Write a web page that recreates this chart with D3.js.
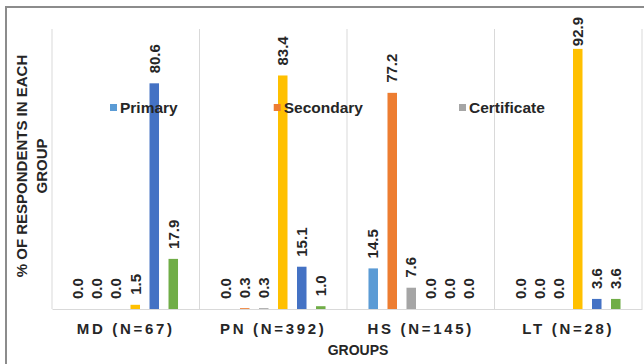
<!DOCTYPE html>
<html>
<head>
<meta charset="utf-8">
<script src="https://cdn.jsdelivr.net/npm/d3@7"></script>
<style>
  body { margin: 0; background: #fff; }
  svg { display: block; }
  text { font-family: "Liberation Sans", Arial, sans-serif; }
</style>
</head>
<body>
<svg id="chart" width="644" height="364"></svg>
<script>
// Respondent groups (x categories)
const groups = ["MD (N=67)", "PN (N=392)", "HS (N=145)", "LT (N=28)"];

// Education level series, one value per group (% of respondents)
const seriesNames = ["Primary", "Secondary", "Certificate", "Diploma", "Degree", "Postgraduate"];
const seriesColors = ["#5b9bd5", "#ed7d31", "#a5a5a5", "#ffc000", "#4472c4", "#70ad47"];
const primary      = [0.0, 0.0, 14.5, 0.0];
const secondary    = [0.0, 0.3, 77.2, 0.0];
const certificate  = [0.0, 0.3, 7.6, 0.0];
const diploma      = [1.5, 83.4, 0.0, 92.9];
const degree       = [80.6, 15.1, 0.0, 3.6];
const postgraduate = [17.9, 1.0, 0.0, 3.6];
const seriesValues = [primary, secondary, certificate, diploma, degree, postgraduate];

// Legend entries shown across the top of the plot
const legendNames = seriesNames.slice(0, 3);

const yTitleLines = ["% OF RESPONDENTS IN EACH", "GROUP"];
const xTitle = "GROUPS";

const svg = d3.select("#chart");

const plot = { left: 52, right: 642, top: 29, bottom: 309 };

const x0 = d3.scaleBand().domain(groups).range([plot.left, plot.right]).padding(0);
const x1 = d3.scaleBand().domain(d3.range(seriesNames.length))
  .range([0, x0.bandwidth()]).paddingInner(0.5).paddingOuter(1.13);
const y = d3.scaleLinear().domain([0, 100]).range([plot.bottom, plot.top]);

// Outer frame (top and left edges)
svg.append("path")
  .attr("d", "M6,364 L6,7 L644,7")
  .attr("fill", "none")
  .attr("stroke", "#8c8c8c")
  .attr("stroke-width", 2);

// Vertical separators between groups
const sepX = groups.map(g => x0(g)).concat([plot.right]);
svg.append("g").selectAll("line").data(sepX).join("line")
  .attr("x1", d => d).attr("x2", d => d)
  .attr("y1", plot.top).attr("y2", plot.bottom)
  .attr("stroke", "#d9d9d9").attr("stroke-width", 1);

// Category axis along the baseline
const xAxis = svg.append("g")
  .attr("transform", `translate(0,${plot.bottom})`)
  .call(d3.axisBottom(x0).tickSize(0).tickPadding(14));
xAxis.select(".domain").attr("stroke", "#d9d9d9");
xAxis.selectAll("text")
  .attr("font-size", 15)
  .attr("font-weight", "bold")
  .attr("fill", "#262626")
  .attr("letter-spacing", "2.7px")
  .attr("font-family", "'Liberation Sans', Arial, sans-serif");

// Flatten values into bar records
const bars = [];
groups.forEach((g, gi) => {
  seriesValues.forEach((vals, si) => {
    bars.push({ group: g, s: si, v: vals[gi] });
  });
});

const barG = svg.append("g");
barG.selectAll("rect").data(bars).join("rect")
  .attr("x", d => x0(d.group) + x1(d.s))
  .attr("width", x1.bandwidth())
  .attr("y", d => y(d.v))
  .attr("height", d => y(0) - y(d.v))
  .attr("fill", d => seriesColors[d.s]);

// Value labels, rotated, placed above each bar
const labelG = svg.append("g");
labelG.selectAll("text").data(bars).join("text")
  .text(d => d.v.toFixed(1))
  .attr("font-size", 15)
  .attr("font-weight", "bold")
  .attr("fill", "#262626")
  .attr("text-anchor", "start")
  .attr("dy", "0.35em")
  .each(function(d) {
    const len = this.getComputedTextLength();
    const cx = x0(d.group) + x1(d.s) + x1.bandwidth() / 2;
    let end = y(d.v) - 10;
    if (end - len < 17) end = 17 + len;
    d3.select(this).attr("transform", `translate(${cx},${end}) rotate(-90)`);
  });

// Legend row
const legend = svg.append("g");
let lx = 110;
legendNames.forEach((name, i) => {
  const item = legend.append("g").attr("transform", `translate(${lx},0)`);
  item.append("rect")
    .attr("x", 0).attr("y", 104).attr("width", 7).attr("height", 7)
    .attr("fill", seriesColors[i]);
  const t = item.append("text")
    .attr("x", 10).attr("y", 113)
    .attr("font-size", 15.5)
    .attr("font-weight", "bold")
    .attr("fill", "#262626")
    .text(name);
  lx += 10 + t.node().getComputedTextLength() + 96;
});

// Y axis title (two lines, rotated)
const yTitle = svg.append("text")
  .attr("transform", "translate(27,166) rotate(-90)")
  .attr("text-anchor", "middle")
  .attr("font-size", 15)
  .attr("font-weight", "bold")
  .attr("fill", "#262626");
yTitleLines.forEach((line, i) => {
  yTitle.append("tspan").attr("x", 0).attr("y", i * 20).text(line);
});

// X axis title
svg.append("text")
  .attr("x", 358).attr("y", 355)
  .attr("text-anchor", "middle")
  .attr("font-size", 14)
  .attr("font-weight", "bold")
  .attr("fill", "#262626")
  .text(xTitle);
</script>
</body>
</html>
